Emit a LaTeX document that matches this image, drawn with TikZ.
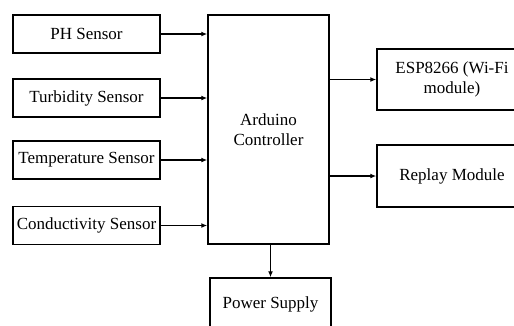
\documentclass[tikz,border=0pt]{standalone}
\usepackage{fontspec}
\setmainfont{Liberation Serif}
\usepackage{tikz}
\usetikzlibrary{arrows.meta, positioning}
\tikzset{
    block/.style={font=\rmfamily\fontsize{17}{20}\selectfont, draw,
        line width=1.5pt, align=center, inner sep=0pt},
    sensorbox/.style={block, minimum width=147pt, minimum height=38pt},
    sidebox/.style={block, minimum width=150pt, minimum height=61pt},
    signal/.style={-{Latex[length=6pt,width=5pt]}, line width=1.5pt},
}
\begin{document}
\begin{tikzpicture}[x=1pt, y=-1pt]
    \useasboundingbox (0,0) rectangle (514,325);
    \clip (0,0) rectangle (514,325);

    \node[sensorbox] (ph) at (86.5,34) {PH Sensor};
    \node[sensorbox] (turb) at (86.5,98) {Turbidity Sensor};
    \node[sensorbox] (temp) at (86.5,160) {Temperature Sensor};
    \node[sensorbox] (cond) at (86.5,225.5) {Conductivity Sensor};

    \node[block, minimum width=121pt, minimum height=229pt] (ardu)
        at (268.5,129.5) {Arduino\\Controller};

    \node[sidebox] (esp) at (452,79.5) {ESP8266 (Wi-Fi\\module)};
    \node[sidebox, minimum height=62pt] (relay) at (452,176) {Replay Module};
    \node[block, minimum width=121pt, minimum height=52pt] (power)
        at (270.5,304) {Power Supply};

    \draw[signal] (ph.east) -- (ph.east -| ardu.west);
    \draw[signal] (turb.east) -- (turb.east -| ardu.west);
    \draw[signal] (temp.east) -- (temp.east -| ardu.west);
    \draw[signal] (cond.east) -- (cond.east -| ardu.west);

    \draw[signal] (esp.west -| ardu.east) -- (esp.west);
    \draw[signal] (relay.west -| ardu.east) -- (relay.west);
    \draw[signal] (power.north |- ardu.south) -- (power.north);
\end{tikzpicture}
\end{document}
